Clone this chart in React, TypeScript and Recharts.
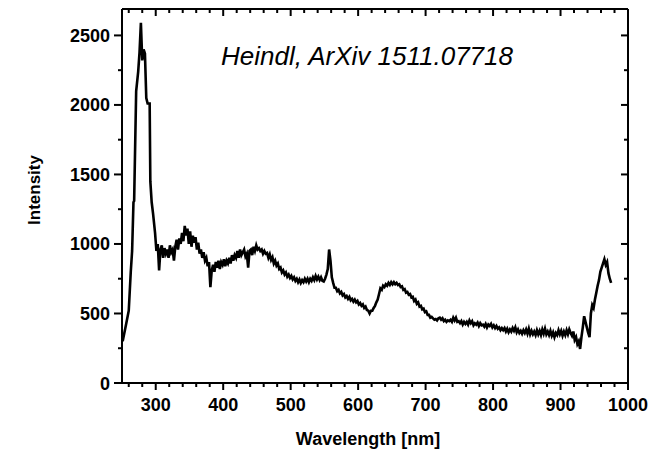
import { LineChart, Line, XAxis, YAxis, Customized } from 'recharts';

// wavelengths in nm
const wavelengths = [
  251, 256, 260, 263, 265, 267, 268, 271, 274, 276,
  278, 280, 282, 284, 286, 288, 291, 292, 294, 296,
  299, 301, 303, 305, 307, 309, 311, 313, 315, 317,
  319, 321, 323, 325, 327, 329, 331, 333, 335, 337,
  339, 341, 343, 345, 347, 349, 351, 353, 355, 357,
  359, 361, 363, 365, 367, 369, 371, 373, 375, 377,
  379, 381, 383, 385, 387, 389, 391, 393, 395, 397,
  399, 401, 403, 405, 407, 409, 411, 413, 415, 417,
  419, 421, 423, 425, 427, 429, 431, 433, 435, 437,
  439, 441, 443, 445, 447, 449, 451, 453, 455, 457,
  459, 461, 463, 465, 467, 469, 471, 473, 475, 477,
  479, 481, 483, 485, 487, 489, 491, 493, 495, 497,
  499, 501, 503, 505, 507, 509, 511, 513, 515, 517,
  519, 521, 523, 525, 527, 529, 531, 533, 535, 537,
  539, 541, 543, 545, 547, 549, 551, 553, 555, 557,
  559, 561, 563, 565, 567, 569, 571, 573, 575, 577,
  579, 581, 583, 585, 587, 589, 591, 593, 595, 597,
  599, 601, 603, 605, 607, 609, 611, 613, 615, 617,
  619, 621, 623, 625, 627, 629, 631, 633, 635, 637,
  639, 641, 643, 645, 647, 649, 651, 653, 655, 657,
  659, 661, 663, 665, 667, 669, 671, 673, 675, 677,
  679, 681, 683, 685, 687, 689, 691, 693, 695, 697,
  699, 701, 703, 705, 707, 709, 711, 713, 715, 717,
  719, 721, 723, 725, 727, 729, 731, 733, 735, 737,
  739, 741, 743, 745, 747, 749, 751, 753, 755, 757,
  759, 761, 763, 765, 767, 769, 771, 773, 775, 777,
  779, 781, 783, 785, 787, 789, 791, 793, 795, 797,
  799, 801, 803, 805, 807, 809, 811, 813, 815, 817,
  819, 821, 823, 825, 827, 829, 831, 833, 835, 837,
  839, 841, 843, 845, 847, 849, 851, 853, 855, 857,
  859, 861, 863, 865, 867, 869, 871, 873, 875, 877,
  879, 881, 883, 885, 887, 889, 891, 893, 895, 897,
  899, 901, 903, 905, 907, 909, 911, 913, 915, 917,
  919, 921, 923, 925, 927, 929, 931, 933, 935, 937,
  939, 941, 943, 945, 947, 949, 951, 953, 955, 957,
  959, 961, 963, 965, 967, 969, 971, 973, 975,
];

const intensity = [
  300, 420, 520, 800, 950, 1300, 1310, 2100, 2240, 2380,
  2590, 2320, 2400, 2370, 2050, 2010, 2010, 1450, 1300, 1220,
  1080, 950, 1000, 810, 960, 990, 900, 970, 930, 960,
  900, 990, 940, 960, 880, 980, 1030, 960, 1040, 1000,
  1080, 1020, 1130, 1060, 1110, 1000, 1090, 980, 1060, 1010,
  1050, 960, 1010, 930, 960, 900, 940, 880, 900, 840,
  870, 690, 810, 850, 800, 870, 830, 880, 820, 870,
  850, 890, 840, 880, 860, 900, 860, 920, 880, 920,
  900, 950, 900, 960, 920, 940, 960, 910, 930, 830,
  950, 960, 920, 980, 950, 990, 960, 970, 950, 960,
  930, 950, 930, 935, 900, 925, 885, 905, 860, 880,
  845, 860, 820, 830, 795, 810, 780, 795, 765, 780,
  755, 770, 745, 760, 735, 750, 725, 745, 720, 740,
  725, 750, 730, 750, 725, 750, 735, 760, 740, 770,
  745, 765, 740, 760, 735, 730, 750, 780, 820, 960,
  880, 760, 720, 685, 685, 660, 670, 645, 655, 630,
  640, 615, 625, 605, 620, 595, 605, 585, 600, 580,
  590, 565, 575, 555, 565, 540, 550, 525, 520, 500,
  520, 520, 540, 555, 580, 600, 640, 680, 670, 700,
  690, 710, 700, 720, 705, 725, 710, 725, 710, 720,
  705, 710, 690, 695, 670, 675, 650, 655, 635, 640,
  615, 620, 590, 600, 570, 580, 550, 555, 530, 535,
  510, 515, 490, 490, 470, 475, 465, 455, 460, 450,
  465, 470, 455, 465, 445, 455, 440, 450, 445, 455,
  440, 470, 450, 470, 440, 445, 430, 445, 420, 440,
  425, 440, 420, 450, 430, 445, 415, 430, 420, 435,
  410, 430, 415, 420, 405, 425, 400, 420, 410, 425,
  400, 415, 395, 410, 390, 400, 380, 395, 380, 395,
  370, 390, 365, 385, 370, 395, 375, 400, 365, 385,
  360, 375, 355, 380, 360, 385, 355, 390, 350, 375,
  350, 370, 345, 380, 350, 375, 345, 385, 355, 390,
  350, 370, 345, 375, 340, 365, 330, 360, 345, 380,
  350, 375, 340, 370, 345, 380, 350, 385, 360, 340,
  370, 310, 330, 280, 300, 245, 330, 400, 480, 440,
  400, 360, 330, 500, 560, 540, 600, 650, 700, 740,
  800, 830, 860, 890, 850, 870, 790, 750, 720,
];

const xMajorTicks = [300, 400, 500, 600, 700, 800, 900, 1000];
const xMinorTicks = [
  260, 280, 320, 340, 360, 380, 420, 440, 460, 480, 520, 540, 560, 580,
  620, 640, 660, 680, 720, 740, 760, 780, 820, 840, 860, 880, 920, 940, 960, 980,
];
const yMajorTicks = [0, 500, 1000, 1500, 2000, 2500];
const yMinorTicks = [250, 750, 1250, 1750, 2250];

const xTicks = [...xMajorTicks, ...xMinorTicks].sort((a, b) => a - b);
const yTicks = [...yMajorTicks, ...yMinorTicks].sort((a, b) => a - b);

const data = wavelengths.map((w, i) => ({ w, v: intensity[i] }));

const FONT = "'Liberation Sans', Arial, Helvetica, sans-serif";

const BottomTick = (props: any) => {
  const { x, y, payload } = props;
  const major = xMajorTicks.includes(payload.value);
  return (
    <g>
      <line x1={x} y1={y} x2={x} y2={y + (major ? 7 : 4)} stroke="#000" strokeWidth={2} />
      {major && (
        <text x={x} y={y + 28} textAnchor="middle" fontFamily={FONT} fontWeight="bold" fontSize={18} fill="#000">
          {payload.value}
        </text>
      )}
    </g>
  );
};

const TopTick = (props: any) => {
  const { x, y, payload } = props;
  const major = xMajorTicks.includes(payload.value);
  return <line x1={x} y1={y} x2={x} y2={y + (major ? 7 : 4)} stroke="#000" strokeWidth={2} />;
};

const LeftTick = (props: any) => {
  const { x, y, payload } = props;
  const major = yMajorTicks.includes(payload.value);
  return (
    <g>
      <line x1={x} y1={y} x2={x - (major ? 8 : 4)} y2={y} stroke="#000" strokeWidth={2} />
      {major && (
        <text x={x - 12} y={y + 6.5} textAnchor="end" fontFamily={FONT} fontWeight="bold" fontSize={18} fill="#000">
          {payload.value}
        </text>
      )}
    </g>
  );
};

const RightTick = (props: any) => {
  const { x, y, payload } = props;
  const major = yMajorTicks.includes(payload.value);
  return <line x1={x} y1={y} x2={x - (major ? 7 : 4)} y2={y} stroke="#000" strokeWidth={2} />;
};

const Texts = () => (
  <g>
    <text x={367} y={65} textAnchor="middle" fontFamily={FONT} fontStyle="italic" fontSize={26} fill="#000">
      Heindl, ArXiv 1511.07718
    </text>
    <text x={368} y={445} textAnchor="middle" fontFamily={FONT} fontWeight="bold" fontSize={18} fill="#000">
      Wavelength [nm]
    </text>
    <text
      x={0}
      y={0}
      transform="translate(40, 190) rotate(-90)"
      textAnchor="middle"
      fontFamily={FONT}
      fontWeight="bold"
      fontSize={17}
      fill="#000"
    >
      Intensity
    </text>
  </g>
);

export default function App() {
  return (
    <div style={{ position: 'absolute', left: 0, top: 0, width: 658, height: 451, background: '#fff' }}>
      <LineChart width={658} height={451} data={data} margin={{ top: 5, right: 26, bottom: 28, left: 62 }}>
        <XAxis
          dataKey="w"
          type="number"
          domain={[250, 1000]}
          ticks={xTicks}
          interval={0}
          tickSize={0}
          tickMargin={0}
          height={40}
          tick={<BottomTick />}
          axisLine={{ stroke: '#000', strokeWidth: 2 }}
          allowDataOverflow
        />
        <XAxis
          xAxisId="top"
          orientation="top"
          dataKey="w"
          type="number"
          domain={[250, 1000]}
          ticks={xTicks}
          interval={0}
          tickSize={0}
          tickMargin={0}
          height={4}
          tick={<TopTick />}
          axisLine={{ stroke: '#000', strokeWidth: 2 }}
          allowDataOverflow
        />
        <YAxis
          type="number"
          domain={[0, 2690]}
          ticks={yTicks}
          interval={0}
          tickSize={0}
          tickMargin={0}
          width={60}
          tick={<LeftTick />}
          axisLine={{ stroke: '#000', strokeWidth: 2 }}
          allowDataOverflow
        />
        <YAxis
          yAxisId="right"
          orientation="right"
          type="number"
          domain={[0, 2690]}
          ticks={yTicks}
          interval={0}
          tickSize={0}
          tickMargin={0}
          width={4}
          tick={<RightTick />}
          axisLine={{ stroke: '#000', strokeWidth: 2 }}
          allowDataOverflow
        />
        <Line
          dataKey="v"
          type="linear"
          stroke="#000"
          strokeWidth={2.6}
          strokeLinejoin="miter"
          dot={false}
          isAnimationActive={false}
        />
        <Customized component={Texts} />
      </LineChart>
    </div>
  );
}
